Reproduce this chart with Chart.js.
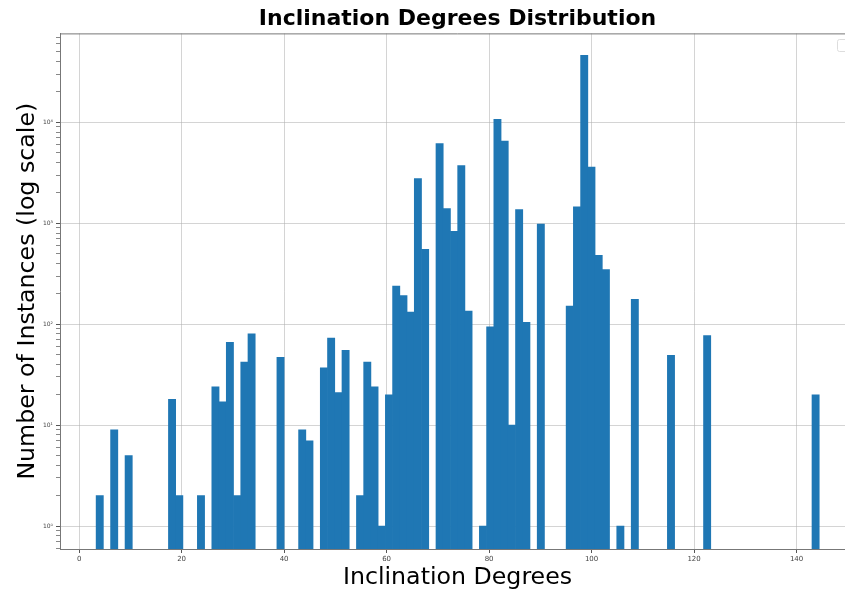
<!DOCTYPE html>
<html>
<head>
<meta charset="utf-8">
<title>Inclination Degrees Distribution</title>
<script src="https://cdn.jsdelivr.net/npm/chart.js@4.4.1/dist/chart.umd.min.js"></script>
<style>
  html, body { margin: 0; padding: 0; background: #fff; overflow: hidden; }
  #wrap { width: 845px; height: 590px; overflow: hidden; }
</style>
</head>
<body>
<div id="wrap"><canvas id="chart" width="855" height="590"></canvas></div>
<script>
  // histogram: 100 bins, left edge of the first bin and bin width (degrees)
  const binStart = 3.32;
  const binWidth = 1.411;
  const counts = [
    2, 0, 9, 0, 5, 0, 0, 0, 0, 0,
    18, 2, 0, 0, 2, 0, 24, 17, 66, 2,
    42, 80, 0, 0, 0, 47, 0, 0, 9, 7,
    0, 37, 73, 21, 55, 0, 2, 42, 24, 1,
    20, 238, 192, 132, 2770, 550, 0, 6150, 1400, 830,
    3725, 135, 0, 1, 94, 10700, 6530, 10, 1367, 104,
    0, 980, 0, 0, 0, 151, 1450, 46000, 3610, 482,
    348, 0, 1, 0, 176, 0, 0, 0, 0, 49,
    0, 0, 0, 0, 77, 0, 0, 0, 0, 0,
    0, 0, 0, 0, 0, 0, 0, 0, 0, 20
  ];

  const xTicks = [0, 20, 40, 60, 80, 100, 120, 140];
  const yDecades = [1, 10, 100, 1000, 10000];
  const yLabels = ["10⁰", "10¹", "10²", "10³", "10⁴"];

  const xMin = -3.73, xMax = 151.4;
  const yMin = 0.592, yMax = 76000;

  const barColor = "#1f77b4";
  const gridColor = "rgba(176, 176, 176, 0.55)";
  const spineColor = "#777";

  // minor log ticks 1..9 x 10^k inside the range
  const yTickValues = [];
  [0.1, 1, 10, 100, 1000, 10000].forEach(d => {
    for (let m = 1; m <= 9; m++) {
      const v = d * m;
      if (v >= yMin && v <= yMax) yTickValues.push(v);
    }
  });

  const points = counts.map((c, i) => ({
    x: binStart + (i + 0.5) * binWidth,
    y: c > 0 ? c : null
  }));

  const framePlugin = {
    id: "frame",
    afterDraw(chart) {
      const { ctx, chartArea } = chart;
      ctx.save();
      ctx.strokeStyle = spineColor;
      ctx.lineWidth = 1;
      ctx.beginPath();
      ctx.moveTo(chartArea.left, chartArea.top + 0.5);
      ctx.lineTo(chartArea.right, chartArea.top + 0.5);
      ctx.stroke();
      // empty legend box, mostly cut off at the right edge
      ctx.strokeStyle = "#ddd";
      ctx.fillStyle = "rgba(255,255,255,0.8)";
      ctx.beginPath();
      ctx.roundRect(837.5, 39.5, 16, 12, 2);
      ctx.fill();
      ctx.stroke();
      ctx.restore();
    }
  };

  new Chart(document.getElementById("chart"), {
    type: "bar",
    data: {
      datasets: [{
        data: points,
        backgroundColor: barColor,
        borderWidth: 0,
        barPercentage: 1,
        categoryPercentage: 1
      }]
    },
    options: {
      responsive: false,
      animation: false,
      devicePixelRatio: 1,
      layout: { padding: 0 },
      plugins: {
        legend: { display: false },
        tooltip: { enabled: false },
        title: {
          display: true,
          fullSize: false,
          text: "Inclination Degrees Distribution",
          color: "#000",
          font: { family: "DejaVu Sans", size: 22, weight: "bold", lineHeight: 1.2 },
          padding: { top: 6, bottom: 1 }
        }
      },
      scales: {
        x: {
          type: "linear",
          min: xMin,
          max: xMax,
          offset: false,
          z: 1,
          afterBuildTicks: s => { s.ticks = xTicks.map(v => ({ value: v })); },
          afterFit: s => { s.height = 41; },
          ticks: {
            color: "#444",
            font: { family: "DejaVu Sans", size: 7 },
            padding: 2,
            maxRotation: 0,
            autoSkip: false
          },
          grid: {
            color: gridColor,
            tickColor: "#555",
            tickLength: 4,
            offset: false
          },
          border: { color: spineColor },
          title: {
            display: true,
            text: "Inclination Degrees",
            color: "#000",
            font: { family: "DejaVu Sans", size: 23.7, lineHeight: 1 },
            padding: { top: 0, bottom: 0 }
          }
        },
        y: {
          type: "logarithmic",
          min: yMin,
          max: yMax,
          z: 1,
          afterBuildTicks: s => {
            s.ticks = yTickValues.map(v => ({ value: v, major: yDecades.includes(v) }));
          },
          afterFit: s => { s.width = 60; },
          ticks: {
            color: "#444",
            font: { family: "DejaVu Sans", size: 6 },
            padding: 3,
            autoSkip: false,
            callback: v => {
              const k = yDecades.indexOf(v);
              return k >= 0 ? yLabels[k] : "";
            }
          },
          grid: {
            color: c => (c.tick && yDecades.includes(c.tick.value)) ? gridColor : "rgba(0,0,0,0)",
            tickColor: c => (c.tick && yDecades.includes(c.tick.value)) ? "#555" : "#888",
            tickLength: 4
          },
          border: { color: spineColor },
          title: {
            display: true,
            text: "Number of Instances (log scale)",
            color: "#000",
            font: { family: "DejaVu Sans", size: 23.7, lineHeight: 1.2 },
            padding: { top: 14, bottom: 0 }
          }
        }
      }
    },
    plugins: [framePlugin]
  });
</script>
</body>
</html>
